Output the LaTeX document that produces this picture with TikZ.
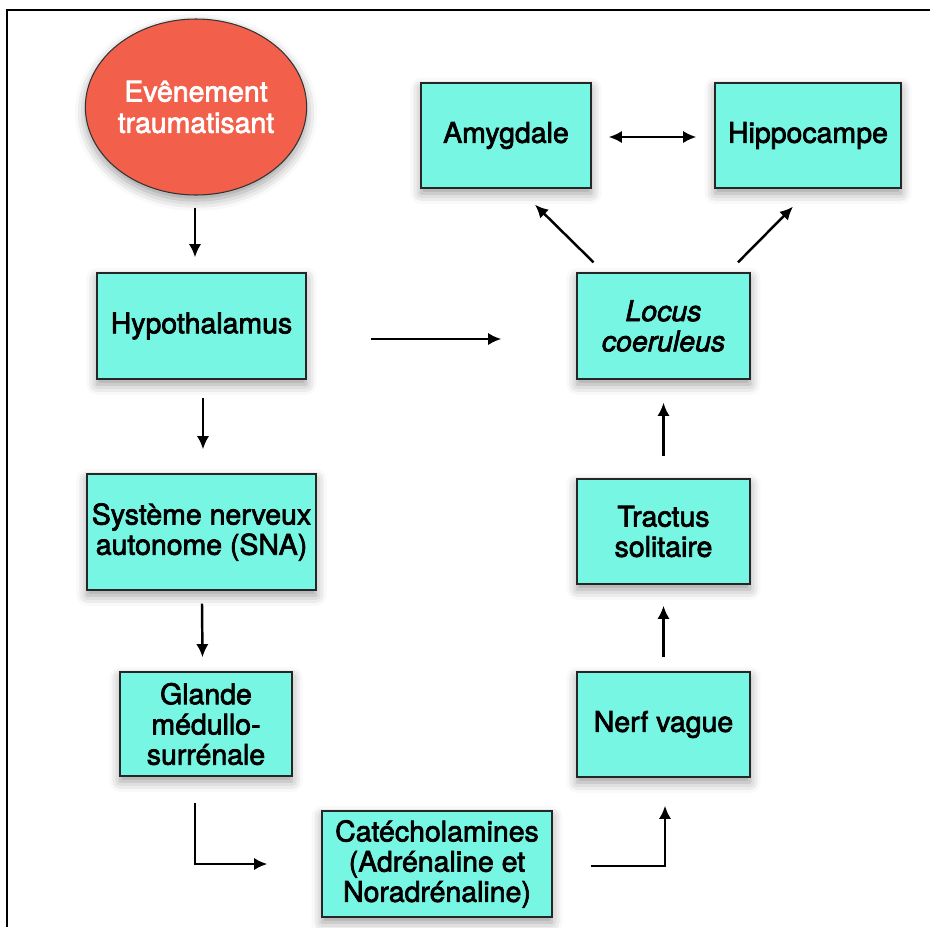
\documentclass[tikz,border=0pt]{standalone}
\usepackage{fontspec}
\setmainfont{TeX Gyre Heros}[FakeBold=2.5]
\usetikzlibrary{arrows.meta,shapes.geometric,shadows.blur}
\definecolor{aqua}{RGB}{120,246,228}
\definecolor{coral}{RGB}{242,96,76}
\begin{document}
\begin{tikzpicture}[x=0.02cm, y=-0.02cm,
  cell/.style={draw=black!85, line width=0.8pt, fill=aqua, align=center, inner sep=0pt,
    font=\fontsize{16.2}{17.2}\selectfont,
    blur shadow={shadow xshift=0pt, shadow yshift=-3pt, shadow blur radius=6pt, shadow opacity=40}},
  flow/.style={line width=1.4pt, -{Latex[length=7.5pt,width=7pt]}}]
\useasboundingbox (0,0) rectangle (930,927);

% Frame (cropped at right and bottom)
\draw[line width=1.3pt] (7,927) -- (7,10) -- (930,10);

% Trigger
\node[ellipse, draw=black!80, line width=0.6pt, fill=coral, text=white, align=center,
  minimum width=187*0.02cm, minimum height=176*0.02cm, inner sep=0pt,
  font=\fontsize{16.2}{17.8}\selectfont,
  blur shadow={shadow xshift=0pt, shadow yshift=-3pt, shadow blur radius=6pt, shadow opacity=40}]
  (event) at (196,107) {Evênement\\traumatisant};

% Left column
\node[cell, minimum width=4.18cm, minimum height=2.12cm] (hypo) at (201.5,326) {Hypothalamus};
\node[cell, minimum width=4.58cm, minimum height=2.32cm] (sna) at (201.5,532) {Système nerveux\\autonome (SNA)};
\node[cell, minimum width=3.44cm, minimum height=2.08cm] (glande) at (206,724) {Glande\\médullo-\\surrénale};

% Bottom
\node[cell, minimum width=4.60cm, minimum height=2.12cm] (catech) at (437,864) {Catécholamines\\(Adrénaline et\\Noradrénaline)};

% Right column
\node[cell, minimum width=3.46cm, minimum height=2.10cm] (nerf) at (663.5,724.5) {Nerf vague};
\node[cell, minimum width=3.46cm, minimum height=2.10cm] (tractus) at (663.5,531.5) {Tractus\\solitaire};
\node[cell, minimum width=3.46cm, minimum height=2.12cm] (locus) at (663.5,326) {\itshape Locus\\\itshape coeruleus};

% Top
\node[cell, minimum width=3.40cm, minimum height=2.10cm] (amyg) at (506,135.5) {Amygdale};
\node[cell, minimum width=3.72cm, minimum height=2.10cm] (hippo) at (808,135.5) {Hippocampe};

% Connectors
\draw[flow] ([shift={(-1,12)}]event.south) -- ([shift={(-6.5,-15)}]hypo.north);
\draw[flow] ([shift={(1.5,18)}]hypo.south) -- ([shift={(1.5,-24)}]sna.north);
\draw[flow] ([shift={(0.5,13)}]sna.south) -- ([shift={(-3.5,-14)}]glande.north);
\draw[flow] ([shift={(-11,26)}]glande.south) |- ([shift={(-54,0)}]catech.west);
\draw[flow] ([shift={(38,2)}]catech.east) -| ([shift={(1.5,28)}]nerf.south);
\draw[flow] ([shift={(0,-14)}]nerf.north) -- ([shift={(0,21)}]tractus.south);
\draw[flow] ([shift={(0,-22)}]tractus.north) -- ([shift={(0,23)}]locus.south);
\draw[flow] ([shift={(64,13)}]hypo.east) -- ([shift={(-75,13)}]locus.west);
\draw[flow] ([shift={(-70,-10)}]locus.north) -- ([shift={(29,16)}]amyg.south);
\draw[flow] ([shift={(74.5,-10)}]locus.north) -- ([shift={(-15,18)}]hippo.south);
\draw[flow, {Latex[length=7.5pt,width=7pt]}-{Latex[length=7.5pt,width=7pt]}]
  ([shift={(17,1.5)}]amyg.east) -- ([shift={(-18,1.5)}]hippo.west);
\end{tikzpicture}
\end{document}
